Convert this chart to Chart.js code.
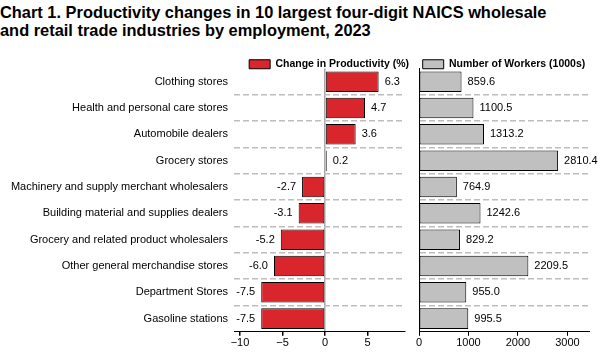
<!DOCTYPE html>
<html>
<head>
<meta charset="utf-8">
<script src="https://cdn.jsdelivr.net/npm/chart.js@4.4.1/dist/chart.umd.min.js"></script>
<style>
  body { margin: 0; width: 600px; height: 360px; background: #fff; font-family: "Liberation Sans", Arial, sans-serif; position: relative; overflow: hidden; }
  #title { position: absolute; left: 0; top: 3px; font-weight: bold; font-size: 16.4px; line-height: 18px; color: #000; white-space: nowrap; }
  #wrapLeft { position: absolute; left: 0; top: 46px; width: 410px; height: 314px; }
  #wrapRight { position: absolute; left: 410px; top: 46px; width: 190px; height: 314px; }
</style>
</head>
<body>
<div id="title">Chart 1. Productivity changes in 10 largest four-digit NAICS wholesale<br>and retail trade industries by employment, 2023</div>
<div id="wrapLeft"><canvas id="left"></canvas></div>
<div id="wrapRight"><canvas id="right"></canvas></div>
<script>
const industries = [
  'Clothing stores',
  'Health and personal care stores',
  'Automobile dealers',
  'Grocery stores',
  'Machinery and supply merchant wholesalers',
  'Building material and supplies dealers',
  'Grocery and related product wholesalers',
  'Other general merchandise stores',
  'Department Stores',
  'Gasoline stations'
];
const productivityChange = [6.3, 4.7, 3.6, 0.2, -2.7, -3.1, -5.2, -6.0, -7.5, -7.5];
const workers = [859.6, 1100.5, 1313.2, 2810.4, 764.9, 1242.6, 829.2, 2209.5, 955.0, 995.5];
const productivityTicks = [-10, -5, 0, 5];
const workerTicks = [0, 1000, 2000, 3000];

const FONT = '"Liberation Sans", Arial, sans-serif';
Chart.defaults.font.family = FONT;
Chart.defaults.color = '#000';
Chart.defaults.animation = false;

// dashed lines between rows, not on the outer edges
const rowGrid = {
  offset: true,
  drawTicks: false,
  lineWidth: 1.5,
  color: ctx => (ctx.index === undefined || ctx.index === 0) ? 'transparent' : '#bdbdbd'
};

const valueLabels = {
  id: 'valueLabels',
  afterDatasetsDraw(chart) {
    const c = chart.ctx;
    const meta = chart.getDatasetMeta(0);
    const vals = chart.data.datasets[0].data;
    c.save();
    c.font = '11px ' + FONT;
    c.fillStyle = '#000';
    c.textBaseline = 'middle';
    meta.data.forEach((bar, i) => {
      const v = vals[i];
      if (v >= 0) {
        c.textAlign = 'left';
        c.fillText(v.toFixed(1), bar.x + 6, bar.y);
      } else {
        c.textAlign = 'right';
        c.fillText(v.toFixed(1), bar.x - 6, bar.y);
      }
    });
    c.restore();
  }
};

// legend sits right on top of the plot, closer than chart.js puts it
const legendShift = (dx, dy) => ({
  id: 'legendShift',
  afterLayout(chart) {
    const lg = chart.legend;
    lg.top += dy; lg.bottom += dy;
    lg.left += dx; lg.right += dx;
  }
});

const legendOpts = {
  display: true,
  position: 'top',
  labels: {
    boxWidth: 21,
    boxHeight: 9,
    padding: 2,
    font: { size: 10.5, weight: 'bold' },
    color: '#000'
  }
};

const minusTick = v => String(v).replace('-', '\u2212');
const fixedTicks = list => s => { s.ticks = list.map(v => ({ value: v })); };

new Chart(document.getElementById('left'), {
  type: 'bar',
  data: {
    labels: industries,
    datasets: [{
      label: 'Change in Productivity (%)',
      data: productivityChange,
      backgroundColor: '#d9262c',
      borderColor: '#000',
      borderWidth: 1,
      borderSkipped: false,
      barPercentage: 0.78,
      categoryPercentage: 1
    }]
  },
  options: {
    indexAxis: 'y',
    responsive: true,
    maintainAspectRatio: false,
    layout: { padding: { top: 0, right: 5, bottom: 9, left: 0 } },
    plugins: {
      legend: Object.assign({}, legendOpts, { align: 'end' }),
      tooltip: { enabled: false }
    },
    scales: {
      x: {
        min: -10.7,
        max: 9.4,
        afterBuildTicks: fixedTicks(productivityTicks),
        ticks: { font: { size: 11 }, padding: 1, callback: minusTick },
        grid: {
          tickLength: 4,
          tickColor: '#000',
          lineWidth: 1.5,
          color: ctx => (ctx.tick && ctx.tick.value === 0) ? '#a8a8a8' : 'transparent'
        },
        border: { display: true, color: '#000', width: 1 }
      },
      y: {
        afterFit: s => { s.width = 234; },
        ticks: { font: { size: 11 }, padding: 6 },
        grid: rowGrid,
        border: { display: false, dash: [6, 3] }
      }
    }
  },
  plugins: [valueLabels, legendShift(6, 11)]
});

new Chart(document.getElementById('right'), {
  type: 'bar',
  data: {
    labels: industries,
    datasets: [{
      label: 'Number of Workers (1000s)',
      data: workers,
      backgroundColor: '#c0c0c0',
      borderColor: '#000',
      borderWidth: 1,
      borderSkipped: false,
      barPercentage: 0.78,
      categoryPercentage: 1
    }]
  },
  options: {
    indexAxis: 'y',
    responsive: true,
    maintainAspectRatio: false,
    layout: { padding: { top: 0, right: 11, bottom: 9, left: 9 } },
    plugins: {
      legend: legendOpts,
      tooltip: { enabled: false }
    },
    scales: {
      x: {
        min: 0,
        max: 3435,
        afterBuildTicks: fixedTicks(workerTicks),
        ticks: { font: { size: 11 }, padding: 1, callback: v => String(v) },
        grid: { tickLength: 4, tickColor: '#000', color: 'transparent' },
        border: { display: true, color: '#000', width: 1 }
      },
      y: {
        afterFit: s => { s.width = 0; },
        ticks: { display: false },
        grid: rowGrid,
        border: { display: true, color: '#000', width: 1, dash: [6, 3] }
      }
    }
  },
  plugins: [valueLabels, legendShift(0, 11)]
});
</script>
</body>
</html>
